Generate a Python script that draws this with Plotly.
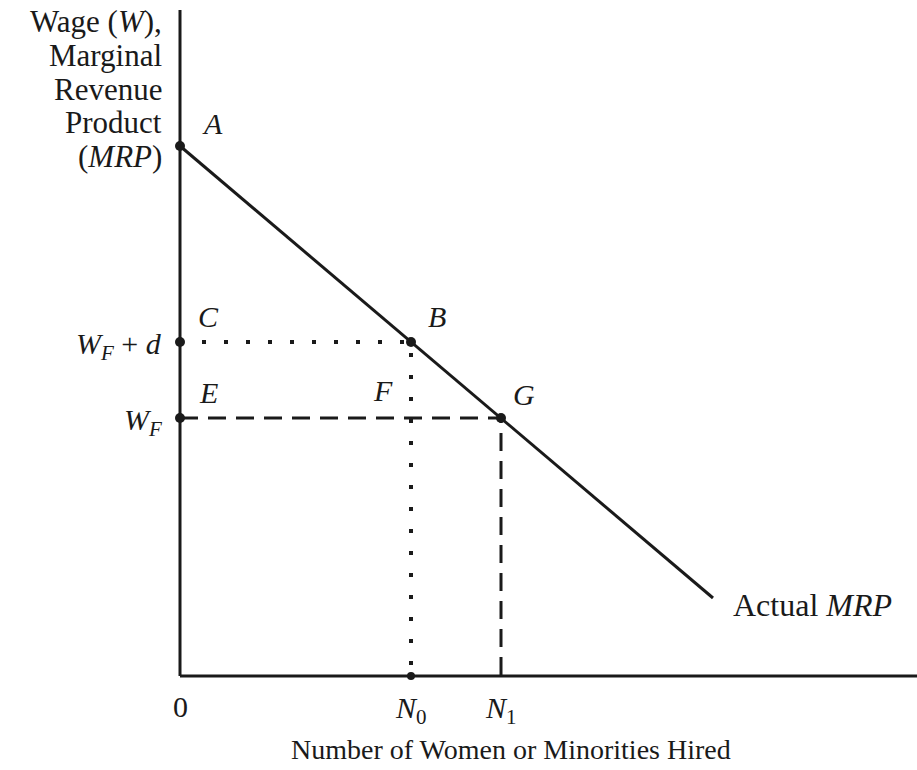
import plotly.graph_objects as go

# Marginal revenue product schedule (labour units on x, wage units on y)
mrp_x = [0.0, 53.3]
mrp_y = [53.0, 7.8]

# Key employment levels and wage levels
n_labels = ["0", "N<sub>0</sub>", "N<sub>1</sub>"]
n_values = [0.0, 23.1, 32.1]
w_labels = ["W<sub>F</sub> + d", "W<sub>F</sub>"]
w_values = [33.4, 25.8]

x_max = 73.7
y_max = 66.6

FONT = "Liberation Serif, DejaVu Serif, serif"
INK = "#1a1a1a"

# Figure geometry (pixels)
W, H = 917, 770
ML, MR, MT, MB = 170, 0, 10, 84
PW, PH = W - ML - MR, H - MT - MB

fig = go.Figure()

# Axes drawn as lines from the origin
fig.add_trace(go.Scatter(x=[0, x_max], y=[0, 0], mode="lines",
                         line=dict(color=INK, width=3), hoverinfo="skip"))
fig.add_trace(go.Scatter(x=[0, 0], y=[0, y_max], mode="lines",
                         line=dict(color=INK, width=3), hoverinfo="skip"))

# Actual MRP line
fig.add_trace(go.Scatter(x=mrp_x, y=mrp_y, mode="lines",
                         line=dict(color=INK, width=3), hoverinfo="skip"))

n0, n1 = n_values[1], n_values[2]
w_hi, w_lo = w_values

# Dotted guides at W_F + d and N0
fig.add_trace(go.Scatter(x=[0, n0, n0], y=[w_hi, w_hi, 0], mode="lines",
                         line=dict(color=INK, width=4, dash="4px,18px"),
                         hoverinfo="skip"))

# Dashed guides at W_F and N1
fig.add_trace(go.Scatter(x=[0, n1, n1], y=[w_lo, w_lo, 0], mode="lines",
                         line=dict(color=INK, width=3, dash="18px,10px"),
                         hoverinfo="skip"))

# Labelled points
fig.add_trace(go.Scatter(
    x=[0, 0, 0, n0, n1, n0],
    y=[mrp_y[0], w_hi, w_lo, w_hi, w_lo, 0],
    mode="markers",
    marker=dict(color=INK, size=[10, 10, 10, 10, 10, 8], opacity=1,
                line=dict(color=INK, width=0)),
    cliponaxis=False, hoverinfo="skip"))

ann = []


def label(px, py, text, size=30, xanchor="center", yanchor="middle",
          align="center", style="normal"):
    """Place text at a pixel position on the page (paper coordinates)."""
    ann.append(dict(x=(px - ML) / PW, y=(H - MB - py) / PH, xref="paper", yref="paper",
                    text=text, showarrow=False, xanchor=xanchor, yanchor=yanchor,
                    align=align,
                    font=dict(family=FONT, size=size, color=INK, style=style)))


# Point letters
for px, py, letter in [(212, 124, "A"), (208, 316, "C"), (437, 316, "B"),
                       (208, 392, "E"), (383, 390, "F"), (524, 394, "G")]:
    label(px, py, letter, style="italic")

# Wage levels on the vertical axis
label(164, 346, "<i>W</i><sub><i>F</i></sub> + <i>d</i>", xanchor="right")
label(164, 422, "<i>W</i><sub><i>F</i></sub>", xanchor="right")

# Employment levels under the horizontal axis
label(180, 706, "0")
label(411, 710, "<i>N</i><sub>0</sub>")
label(501, 710, "<i>N</i><sub>1</sub>")

# Curve label
label(731, 605, "Actual <i>MRP</i>", size=32, xanchor="left")

# Axis titles
y_title = ["Wage (<i>W</i>),", "Marginal", "Revenue", "Product", "(<i>MRP</i>)"]
for i, line in enumerate(y_title):
    label(164, 22 + 33.6 * i, line, size=31, xanchor="right")
label(511, 749, "Number of Women or Minorities Hired", size=28)

fig.update_layout(
    width=W, height=H,
    margin=dict(l=ML, r=MR, t=MT, b=MB),
    paper_bgcolor="white", plot_bgcolor="white",
    showlegend=False, annotations=ann,
    xaxis=dict(range=[-1, x_max], visible=False, fixedrange=True),
    yaxis=dict(range=[-1, y_max], visible=False, fixedrange=True),
)

fig.write_html("out.html")
